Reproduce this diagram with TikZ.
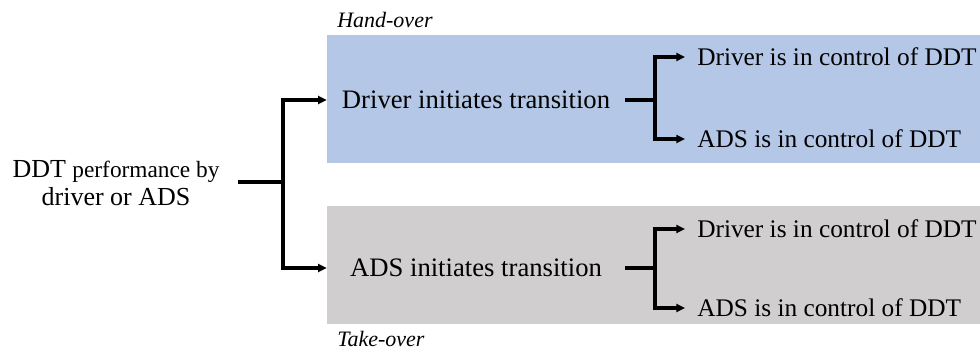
\documentclass[tikz,border=0pt]{standalone}
\usepackage{fontspec}
\setmainfont{Liberation Serif}
\usetikzlibrary{arrows.meta}
\definecolor{hoblue}{HTML}{B4C7E7}
\definecolor{togray}{HTML}{D0CECE}
\begin{document}
\begin{tikzpicture}[x=0.75pt,y=-0.75pt,
  conn/.style={line width=2.3pt},
  arr/.style={conn,-{Triangle[length=6.5pt,width=6pt]}},
  band/.style={anchor=north west,inner sep=0pt,minimum width=489.75pt},
  mid/.style={inner sep=0pt,minimum width=223.5pt,font=\fontsize{20}{23}\selectfont},
  leaf/.style={anchor=west,inner ysep=0pt,inner xsep=9pt,font=\fontsize{19}{22}\selectfont},
  tag/.style={anchor=base west,inner sep=0pt,font=\fontsize{16.5}{19}\selectfont\itshape}]
\useasboundingbox (0,0) rectangle (980,349);
% bands
\node[band,fill=hoblue,minimum height=96pt] (ho) at (327,35) {};
\node[band,fill=togray,minimum height=88.5pt] (to) at (327,206) {};
\node[tag] (holab) at (337,28) {Hand-over};
\node[tag] (tolab) at (337,346) {Take-over};
% source
\node[align=center,inner sep=0pt,font=\fontsize{19.5}{21}\selectfont] (src) at (116,183)
  {DDT {\fontsize{17.5}{21}\selectfont performance by}\\driver or ADS};
\coordinate (s0) at (238,182);
\coordinate (j1) at (283,182);
% middle
\node[mid] (dit) at (476,100) {Driver initiates transition};
\node[mid] (ait) at (476,268) {ADS initiates transition};
\coordinate (j2) at (655,100);
\coordinate (j3) at (655,268);
% leaves
\node[leaf] (d1) at (685,57) {Driver is in control of DDT};
\node[leaf] (a1) at (685,139) {ADS is in control of DDT};
\node[leaf] (d2) at (685,229) {Driver is in control of DDT};
\node[leaf] (a2) at (685,308) {ADS is in control of DDT};
% connectors
\draw[conn] (s0) -- (j1);
\draw[arr] (j1) |- (dit.west);
\draw[arr] (j1) |- (ait.west);
\draw[conn] (dit.east) -- (j2);
\draw[conn] (ait.east) -- (j3);
\draw[arr] (j2) |- (d1.west);
\draw[arr] (j2) |- (a1.west);
\draw[arr] (j3) |- (d2.west);
\draw[arr] (j3) |- (a2.west);
\end{tikzpicture}
\end{document}
